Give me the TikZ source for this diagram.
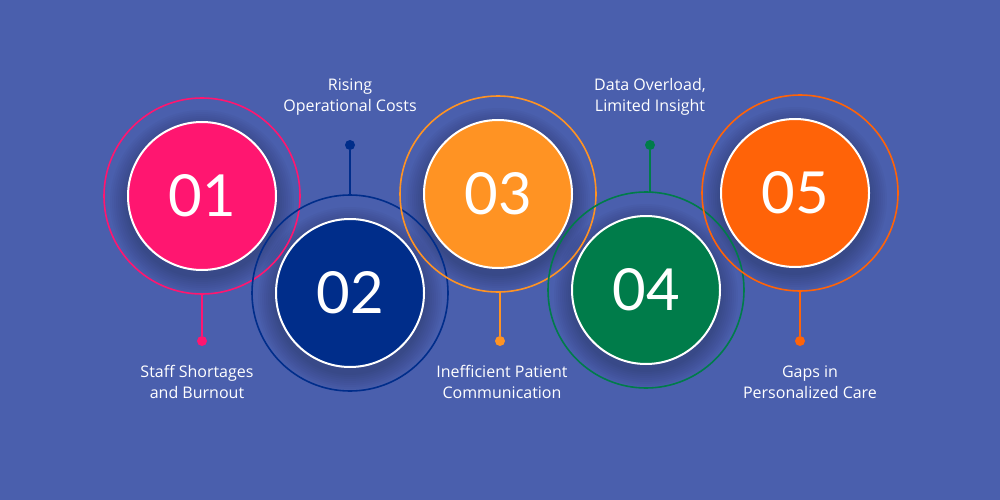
\documentclass[tikz,border=0pt]{standalone}
\usepackage{fontspec}
\setmainfont{Lato}
\newfontfamily\lblfont{Open Sans}
\definecolor{bg}{HTML}{4A5FAD}
\definecolor{c1}{HTML}{FF1670}
\definecolor{c2}{HTML}{002D8A}
\definecolor{c3}{HTML}{FF9323}
\definecolor{c4}{HTML}{007C4A}
\definecolor{c5}{HTML}{FF6308}
\begin{document}
\begin{tikzpicture}[x=1pt,y=-1pt,
  ring/.style={draw=#1,line width=1.6pt},
  disc/.style={circle,fill=#1,draw=white,line width=2pt,minimum size=148pt,inner sep=0pt,text=white,font=\fontsize{58}{58}\selectfont},
  dotn/.style={circle,fill=#1,minimum size=10pt,inner sep=0pt},
  stem/.style={draw=#1,line width=1.6pt},
  lbl/.style={text=white,align=center,font=\lblfont\fontsize{16}{21}\selectfont}]
\fill[bg] (0,0) rectangle (1000,500);
\useasboundingbox (0,0) rectangle (1000,500);
\foreach \x/\y in {202/196,350/293,498/194,646/290,795/193}{
  \foreach \r in {76,78,...,92}{
    \fill[black,opacity=0.025] (\x,\y+6) circle (\r);
  }
}
\draw[ring=c1] (202,196) circle (98);
\draw[ring=c2] (350,293) circle (98);
\draw[ring=c3] (498,194) circle (98);
\draw[ring=c4] (646,290) circle (98);
\draw[ring=c5] (800,193) circle (98);
\node[disc=c1] (n1) at (202,196) {01};
\node[disc=c2] (n2) at (350,293) {02};
\node[disc=c3] (n3) at (498,194) {03};
\node[disc=c4] (n4) at (646,290) {04};
\node[disc=c5] (n5) at (795,193) {05};
\coordinate (r1) at (202,294);
\coordinate (r2) at (350,195);
\coordinate (r3) at (498,292);
\coordinate (r4) at (646,192);
\coordinate (r5) at (800,291);
\node[dotn=c1] (d1) at (202,341) {};
\node[dotn=c2] (d2) at (350,145) {};
\node[dotn=c3] (d3) at (500,341) {};
\node[dotn=c4] (d4) at (650,145) {};
\node[dotn=c5] (d5) at (800,341) {};
\draw[stem=c1] (r1) -- (d1);
\draw[stem=c2] (r2) -- (d2);
\draw[stem=c3] (r3-|d3) -- (d3);
\draw[stem=c4] (r4-|d4) -- (d4);
\draw[stem=c5] (r5) -- (d5);
\node[lbl] (t1) at (197,382) {Staff Shortages\\and Burnout};
\node[lbl] (t2) at (350,97) {Rising\\Operational Costs};
\node[lbl] (t3) at (502,382) {Inefficient Patient\\Communication};
\node[lbl] (t4) at (650,97) {Data Overload,\\Limited Insight};
\node[lbl] (t5) at (810,382) {Gaps in\\Personalized Care};
\end{tikzpicture}
\end{document}
